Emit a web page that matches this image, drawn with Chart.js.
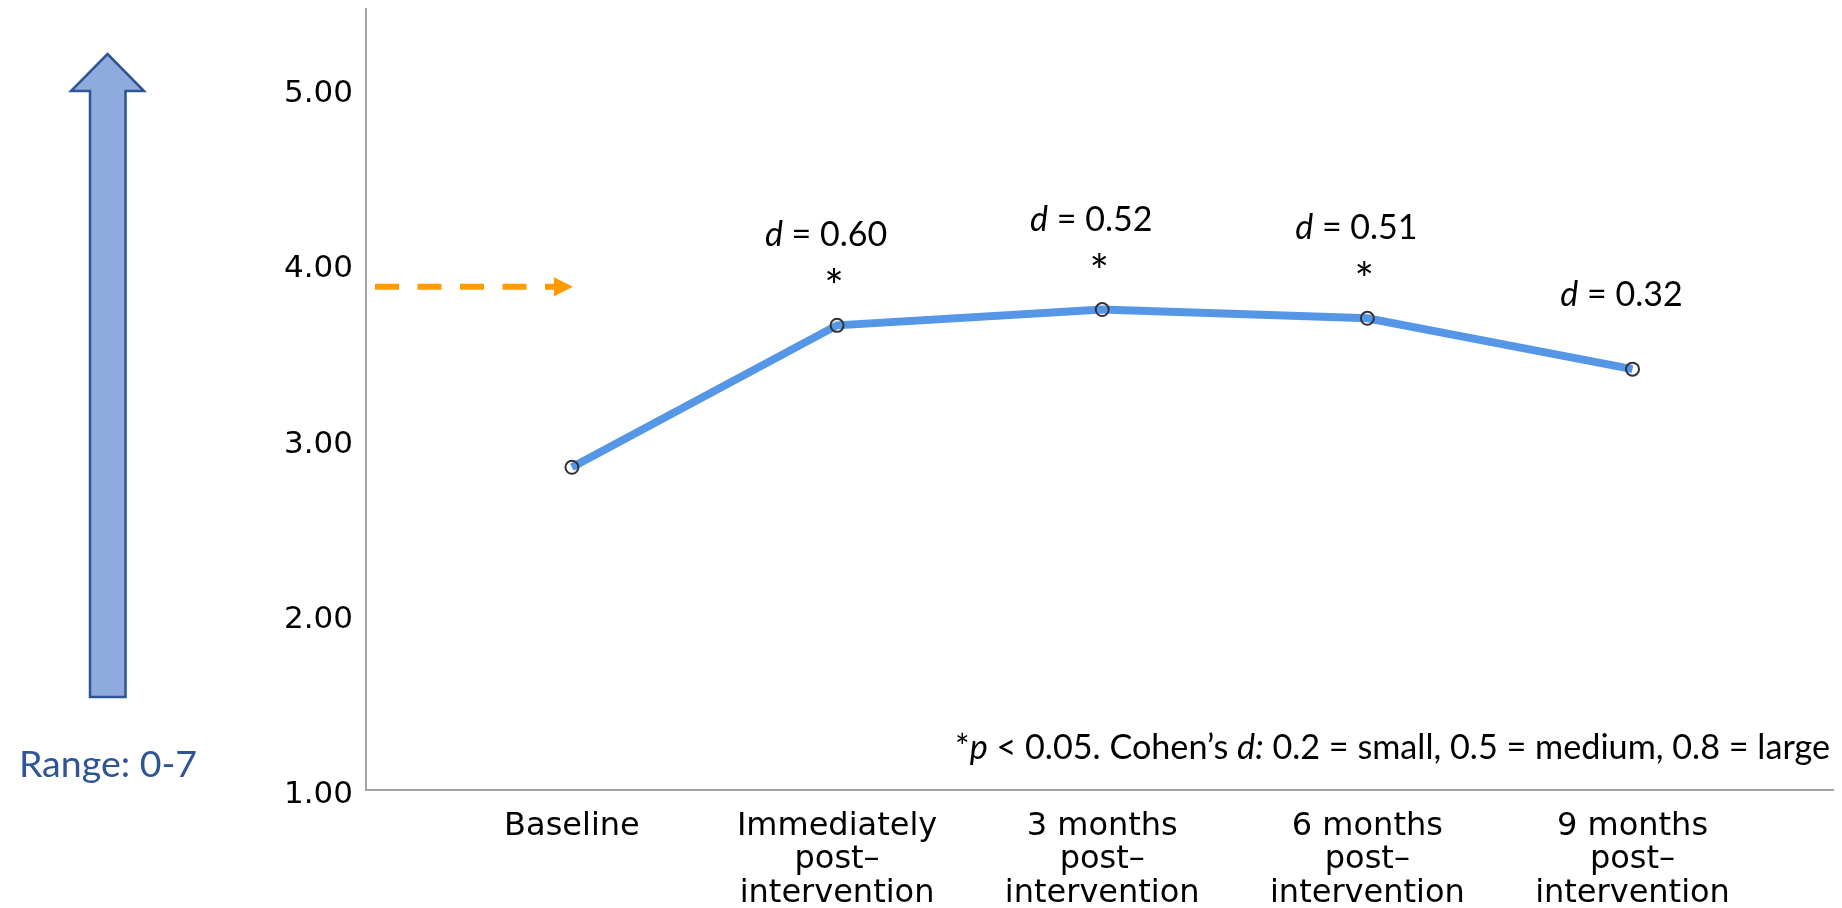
<!DOCTYPE html>
<html><head><meta charset="utf-8">
<script src="https://cdn.jsdelivr.net/npm/chart.js@4.4.1/dist/chart.umd.min.js"></script>
<style>html,body{margin:0;padding:0;background:#fff;}canvas{display:block;}</style>
</head><body>
<canvas id="c" width="1842" height="908"></canvas>
<script>
// ---- data ----
const categories = [
  ["Baseline"],
  ["Immediately", "post–", "intervention"],
  ["3 months", "post–", "intervention"],
  ["6 months", "post–", "intervention"],
  ["9 months", "post–", "intervention"]
];
const meanScores = [2.87, 3.68, 3.77, 3.72, 3.43];
const effectSizes = [null, 0.60, 0.52, 0.51, 0.32];
const significant = [false, true, true, true, false];
const yTickValues = [1, 2, 3, 4, 5];
const referenceScore = 3.90;
const rangeLabel = "Range: 0-7";
const footnoteParts = [["*", false], ["p", true], [" < 0.05. Cohen’s ", false], ["d:", true], [" 0.2 = small, 0.5 = medium, 0.8 = large", false]];

const AXIS = '#a3a3a3';
const LATO = 'Lato, "Open Sans", sans-serif';

const annotations = {
  id: 'annotations',
  afterDatasetsDraw(chart) {
    const { ctx, chartArea, scales: { x, y } } = chart;
    ctx.save();
    // big up arrow (decoration)
    ctx.beginPath();
    ctx.moveTo(107.5, 54); ctx.lineTo(144, 91); ctx.lineTo(125.5, 91); ctx.lineTo(125.5, 697);
    ctx.lineTo(90, 697); ctx.lineTo(90, 91); ctx.lineTo(71, 91); ctx.closePath();
    ctx.fillStyle = '#8faadc'; ctx.fill();
    ctx.lineWidth = 2.5; ctx.strokeStyle = '#2f5597'; ctx.lineJoin = 'miter'; ctx.stroke();
    // range label
    ctx.font = '37.5px ' + LATO; ctx.fillStyle = '#2f5597'; ctx.textAlign = 'center'; ctx.textBaseline = 'alphabetic';
    ctx.fillText(rangeLabel, 108, 777);

    // orange dashed reference arrow
    const ry = y.getPixelForValue(referenceScore);
    const xs = chartArea.left + 9, xe = x.getPixelForValue(0);
    ctx.strokeStyle = '#ff9a00'; ctx.lineWidth = 6; ctx.setLineDash([24, 18.5]);
    ctx.beginPath(); ctx.moveTo(xs, ry); ctx.lineTo(xe - 17, ry); ctx.stroke();
    ctx.setLineDash([]);
    ctx.fillStyle = '#ff9a00';
    ctx.beginPath(); ctx.moveTo(xe + 1, ry); ctx.lineTo(xe - 18, ry - 9.5); ctx.lineTo(xe - 18, ry + 9.5); ctx.closePath(); ctx.fill();

    // effect size labels
    ctx.fillStyle = '#000'; ctx.textAlign = 'left';
    effectSizes.forEach((d, i) => {
      if (d === null) return;
      const px = x.getPixelForValue(i), py = y.getPixelForValue(meanScores[i]);
      const a = 'd', b = ' = ' + d.toFixed(2);
      ctx.font = 'italic 34px ' + LATO; const wa = ctx.measureText(a).width;
      ctx.font = '34px ' + LATO; const wb = ctx.measureText(b).width;
      const sx = px - 11 - (wa + wb) / 2;
      const base = py - (significant[i] ? 79 : 63);
      ctx.font = 'italic 34px ' + LATO; ctx.fillText(a, sx, base);
      ctx.font = '34px ' + LATO; ctx.fillText(b, sx + wa, base);
      if (significant[i]) {
        ctx.textAlign = 'center';
        ctx.font = '46px ' + LATO;
        ctx.fillText('*', px - 3, py - 22);
        ctx.textAlign = 'left';
      }
    });

    // footnote (right-aligned near the right edge)
    ctx.textAlign = 'left';
    const FS = '34.2px ';
    let total = 0;
    footnoteParts.forEach(([t, it]) => { ctx.font = (it ? 'italic ' : '') + FS + LATO; total += ctx.measureText(t).width; });
    let fx = 1842 - 12 - total;
    const fy = chartArea.bottom - 31;
    footnoteParts.forEach(([t, it]) => {
      ctx.font = (it ? 'italic ' : '') + FS + LATO;
      ctx.fillText(t, fx, fy);
      fx += ctx.measureText(t).width;
    });
    ctx.restore();
  }
};

new Chart(document.getElementById('c'), {
  type: 'line',
  data: {
    datasets: [{
      data: meanScores.map((v, i) => ({ x: i, y: v })),
      borderColor: '#5596e6',
      borderWidth: 8,
      pointRadius: 6.5,
      pointBorderWidth: 2,
      pointBorderColor: '#333',
      pointBackgroundColor: 'rgba(0,0,0,0)',
      tension: 0,
      clip: false
    }]
  },
  options: {
    responsive: false,
    animation: false,
    layout: { padding: { top: 9, left: 0, right: 0, bottom: 0 } },
    plugins: { legend: { display: false }, tooltip: { enabled: false } },
    scales: {
      x: {
        type: 'linear',
        min: -0.7766,
        max: 4.758,
        afterBuildTicks: s => { s.ticks = categories.map((_, i) => ({ value: i })); },
        afterFit: s => { s.height = 118; s.paddingLeft = 0; s.paddingRight = 0; },
        grid: { display: false, drawTicks: false },
        border: { display: true, color: AXIS, width: 2 },
        ticks: {
          callback: v => categories[v],
          padding: 19.5,
          maxRotation: 0,
          autoSkip: false,
          color: '#000',
          font: { family: '"DejaVu Sans"', size: 32, lineHeight: 1.05 }
        }
      },
      y: {
        type: 'linear',
        min: 1.0285,
        max: 5.485,
        afterBuildTicks: s => { s.ticks = yTickValues.map(v => ({ value: v })); },
        afterFit: s => { s.width = 366; s.paddingTop = 0; s.paddingBottom = 0; },
        grid: { display: false, drawTicks: false },
        border: { display: true, color: AXIS, width: 2 },
        ticks: {
          callback: v => v.toFixed(2),
          padding: 13,
          color: '#000',
          font: { family: '"DejaVu Sans"', size: 31 }
        }
      }
    }
  },
  plugins: [annotations]
});
</script>
</body></html>
